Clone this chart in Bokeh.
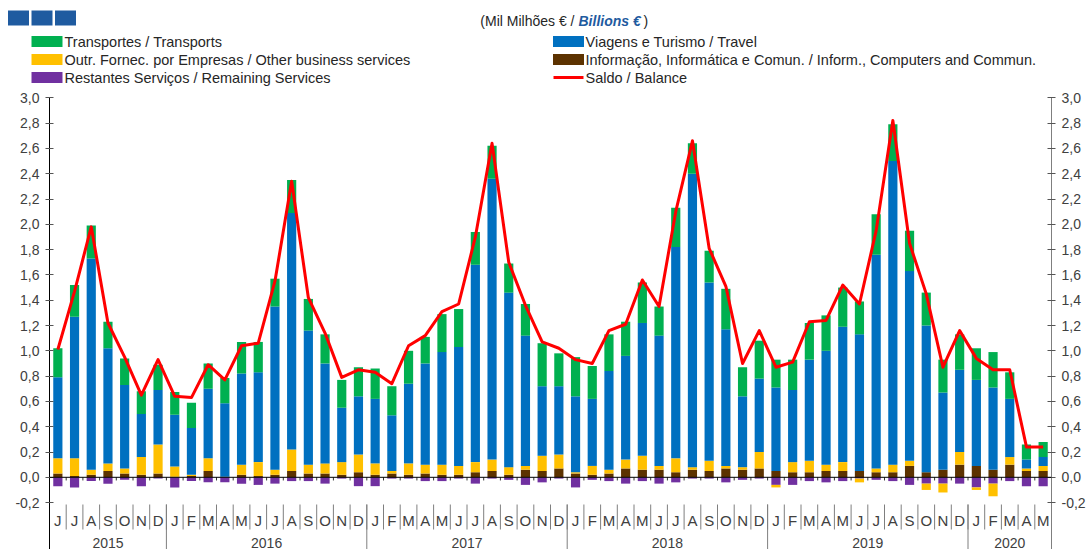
import numpy as np
from bokeh.plotting import figure
from bokeh.models import (ColumnDataSource, Range1d, FixedTicker, LinearAxis, Span,
                          CustomJSTickFormatter)
from bokeh.core.properties import value
from bokeh.embed import file_html
from bokeh.resources import INLINE

# ---------------- data ----------------
months = ["J", "J", "A", "S", "O", "N", "D",
          "J", "F", "M", "A", "M", "J", "J", "A", "S", "O", "N", "D",
          "J", "F", "M", "A", "M", "J", "J", "A", "S", "O", "N", "D",
          "J", "F", "M", "A", "M", "J", "J", "A", "S", "O", "N", "D",
          "J", "F", "M", "A", "M", "J", "J", "A", "S", "O", "N", "D",
          "J", "F", "M", "A", "M"]
years = ["2015", "2016", "2017", "2018", "2019", "2020"]
months_per_year = [7, 12, 12, 12, 12, 5]

transport = [0.23, 0.25, 0.26, 0.21, 0.21, 0.18, 0.20, 0.18, 0.20, 0.20,
             0.20, 0.25, 0.24, 0.22, 0.26, 0.25, 0.23, 0.22, 0.23, 0.24,
             0.23, 0.26, 0.21, 0.30, 0.30, 0.26, 0.26, 0.23, 0.25, 0.34,
             0.26, 0.31, 0.26, 0.29, 0.27, 0.32, 0.23, 0.31, 0.24, 0.25,
             0.32, 0.23, 0.30, 0.22, 0.24, 0.29, 0.28, 0.31, 0.26, 0.32,
             0.29, 0.32, 0.26, 0.26, 0.28, 0.25, 0.28, 0.21, 0.12, 0.12]
travel = [0.64, 1.12, 1.67, 0.91, 0.66, 0.34, 0.43, 0.41, 0.37, 0.55,
          0.58, 0.72, 0.71, 1.29, 1.87, 1.06, 0.79, 0.43, 0.46, 0.51,
          0.44, 0.63, 0.80, 0.89, 0.94, 1.56, 2.22, 1.38, 1.03, 0.55,
          0.54, 0.60, 0.53, 0.78, 0.82, 1.05, 1.03, 1.67, 2.32, 1.41,
          1.08, 0.56, 0.58, 0.66, 0.57, 0.80, 0.90, 1.07, 1.08, 1.69,
          2.40, 1.50, 1.16, 0.61, 0.65, 0.68, 0.65, 0.46, 0.07, 0.07]
other_business = [0.12, 0.14, 0.04, 0.06, 0.04, 0.14, 0.23, 0.08, 0.01, 0.10,
                  0.00, 0.08, 0.11, 0.04, 0.17, 0.07, 0.08, 0.10, 0.14, 0.09,
                  0.02, 0.09, 0.07, 0.08, 0.07, 0.08, 0.09, 0.06, 0.03, 0.12,
                  0.11, 0.01, 0.07, 0.03, 0.07, 0.11, 0.03, 0.11, 0.02, 0.08,
                  0.02, 0.02, 0.13, -0.02, 0.08, 0.09, 0.05, 0.07, -0.03, 0.03,
                  0.06, 0.04, -0.05, -0.07, 0.10, -0.02, -0.10, 0.06, 0.02, 0.04]
info_comp = [0.03, 0.01, 0.02, 0.05, 0.03, 0.02, 0.03, 0.005, 0.01, 0.05,
             0.005, 0.02, 0.01, 0.02, 0.05, 0.03, 0.03, 0.02, 0.04, 0.02,
             0.03, 0.02, 0.03, 0.02, 0.02, 0.04, 0.05, 0.02, 0.06, 0.05,
             0.07, 0.03, 0.02, 0.03, 0.07, 0.06, 0.06, 0.04, 0.06, 0.05,
             0.07, 0.06, 0.07, 0.05, 0.04, 0.04, 0.05, 0.05, 0.05, 0.04,
             0.04, 0.09, 0.04, 0.06, 0.10, 0.09, 0.06, 0.10, 0.05, 0.05]
remaining = [-0.07, -0.08, -0.03, -0.05, -0.02, -0.07, -0.01, -0.08, -0.03, -0.04,
             -0.04, -0.05, -0.06, -0.05, -0.03, -0.03, -0.05, -0.01, -0.07, -0.07,
             -0.01, -0.01, -0.03, -0.03, -0.01, -0.05, -0.01, -0.02, -0.06, -0.04,
             -0.01, -0.08, -0.02, -0.03, -0.05, -0.03, -0.05, -0.04, -0.01, -0.01,
             -0.04, -0.02, -0.01, -0.06, -0.06, -0.03, -0.04, -0.03, -0.01, -0.02,
             -0.03, -0.06, -0.05, -0.05, -0.05, -0.08, -0.05, -0.03, -0.07, -0.07]
balance = [1.01, 1.47, 1.98, 1.22, 0.95, 0.65, 0.93, 0.64, 0.63, 0.89,
           0.77, 1.04, 1.06, 1.55, 2.34, 1.42, 1.14, 0.79, 0.85, 0.83,
           0.74, 1.04, 1.12, 1.31, 1.37, 1.90, 2.64, 1.70, 1.36, 1.07,
           1.02, 0.93, 0.90, 1.16, 1.21, 1.56, 1.35, 2.10, 2.66, 1.81,
           1.51, 0.90, 1.16, 0.87, 0.91, 1.23, 1.24, 1.52, 1.37, 1.95,
           2.82, 1.85, 1.45, 0.87, 1.16, 0.94, 0.85, 0.85, 0.24, 0.24]

y_ticks = [-0.2, 0.0, 0.2, 0.4, 0.6, 0.8, 1.0, 1.2, 1.4, 1.6, 1.8, 2.0,
           2.2, 2.4, 2.6, 2.8, 3.0]

labels = {
    "transport": "Transportes / Transports",
    "travel": "Viagens e Turismo / Travel",
    "other": "Outr. Fornec. por Empresas  / Other business services",
    "info": "Informação, Informática e Comun. / Inform., Computers and Commun.",
    "remaining": "Restantes Serviços / Remaining Services",
    "balance": "Saldo / Balance",
}
colors = {
    "transport": "#00b050",
    "travel": "#0070c0",
    "other": "#ffc000",
    "info": "#5c3200",
    "remaining": "#7030a0",
    "balance": "#ff0000",
}

FONT = value("Liberation Sans")
TXT = "#262626"

# ---------------- layout constants (page pixels) ----------------
W, H = 1092, 549
FRAME_L, FRAME_R = 49, 1051
PX_PER_UNIT = 126.5
Y3_PAGE = 97.3
n = len(months)
PX_PER_BAR = (FRAME_R - FRAME_L) / n


def yd(page_y):
    return 3.0 - (page_y - Y3_PAGE) / PX_PER_UNIT


def xd(page_x):
    return -0.5 + (page_x - FRAME_L) / PX_PER_BAR


y_max = yd(0)
y_min = yd(H)

p = figure(width=W, height=H, x_range=Range1d(-0.5, n - 0.5),
           y_range=Range1d(y_min, y_max), output_backend="svg", toolbar_location=None,
           x_axis_location=None, y_axis_location="left",
           min_border_left=FRAME_L, min_border_right=W - FRAME_R,
           min_border_top=0, min_border_bottom=0)
p.grid.visible = False
p.outline_line_color = None
p.background_fill_color = "white"

x = np.arange(n)

# ---------------- stacked bars ----------------
series = {
    "info": np.array(info_comp),
    "other": np.array(other_business),
    "travel": np.array(travel),
    "transport": np.array(transport),
    "remaining": np.array(remaining),
}
pos_order = ["info", "other", "travel", "transport", "remaining"]
neg_order = ["remaining", "other", "info", "travel", "transport"]

pos_base = np.zeros(n)
for key in pos_order:
    v = np.clip(series[key], 0, None)
    if not np.any(v > 0):
        continue
    src = ColumnDataSource(dict(x=x, bottom=pos_base.copy(), top=pos_base + v))
    p.vbar(x="x", bottom="bottom", top="top", width=0.55, source=src,
           fill_color=colors[key], line_color=None)
    pos_base = pos_base + v

neg_base = np.zeros(n)
for key in neg_order:
    v = np.clip(series[key], None, 0)
    if not np.any(v < 0):
        continue
    src = ColumnDataSource(dict(x=x, top=neg_base.copy(), bottom=neg_base + v))
    p.vbar(x="x", bottom="bottom", top="top", width=0.55, source=src,
           fill_color=colors[key], line_color=None)
    neg_base = neg_base + v

# zero line with small ticks at month boundaries
p.add_layout(Span(location=0, dimension="width", line_color="#000000", line_width=1))
bx = x[:-1] + 0.5
p.segment(x0=bx, y0=np.zeros(len(bx)), x1=bx, y1=np.full(len(bx), -0.025),
          line_color="#333333", line_width=1)

# balance line
p.line(x=x, y=balance, line_color=colors["balance"], line_width=3, line_join="round")

# ---------------- value axes ----------------
formatter = CustomJSTickFormatter(code="return tick.toFixed(1).replace('.', ',');")


def style_axis(ax, line_color):
    ax.ticker = FixedTicker(ticks=y_ticks)
    ax.formatter = formatter
    ax.bounds = (y_min, 3.0)
    ax.axis_line_color = line_color
    ax.axis_line_width = 1
    ax.major_tick_in = 4
    ax.major_tick_out = 4
    ax.major_tick_line_color = "#555555"
    ax.minor_tick_line_color = None
    ax.major_label_text_font = "Liberation Sans"
    ax.major_label_text_font_size = "14px"
    ax.major_label_text_color = "#404040"
    ax.major_label_standoff = 6


style_axis(p.yaxis[0], "#000000")
right_axis = LinearAxis()
p.add_layout(right_axis, "right")
style_axis(right_axis, "#7f7f7f")

# ---------------- category axis (months / years) ----------------
y_sep0 = yd(504)
y_sep1 = yd(529)
p.segment(x0=bx, y0=np.full(len(bx), y_sep0), x1=bx, y1=np.full(len(bx), y_sep1),
          line_color="#7f7f7f", line_width=1)
year_starts = np.cumsum([0] + months_per_year[:-1])
ybx = year_starts[1:] - 0.5
p.segment(x0=ybx, y0=np.full(len(ybx), y_sep0), x1=ybx, y1=np.full(len(ybx), y_min),
          line_color="#7f7f7f", line_width=1)

p.text(x=x, y=np.full(n, yd(520)), text=months, text_align="center",
       text_baseline="middle", text_font=FONT, text_font_size="15px", text_color="#404040")
year_centers = year_starts + (np.array(months_per_year) - 1) / 2.0
p.text(x=year_centers, y=np.full(len(years), yd(542)), text=years, text_align="center",
       text_baseline="middle", text_font=FONT, text_font_size="14px", text_color="#404040")

# ---------------- header: logo, units title, legend ----------------
LV = "annotation"  # drawn without frame clipping
p.rect(x=[xd(18), xd(41.5), xd(65)], y=[yd(17.5)] * 3, width=21, height=15,
       width_units="screen", height_units="screen",
       fill_color="#1f5ba0", line_color=None, level=LV)

p.text(x=[xd(574)], y=[yd(20)], text=["(Mil Milhões € /"], text_align="right",
       text_baseline="middle", text_font=FONT, text_font_size="14px", text_color=TXT, level=LV)
p.text(x=[xd(578)], y=[yd(20)], text=["Billions €"], text_align="left",
       text_baseline="middle", text_font=FONT, text_font_size="14px",
       text_font_style="bold italic", text_color="#1f5ba0", level=LV)
p.text(x=[xd(643)], y=[yd(20)], text=[")"], text_align="left",
       text_baseline="middle", text_font=FONT, text_font_size="14px", text_color=TXT, level=LV)

left_keys = ["transport", "other", "remaining"]
right_keys = ["travel", "info"]
rows = [yd(41), yd(59), yd(77)]
p.rect(x=[xd(46.5)] * 3, y=rows, width=31, height=11,
       width_units="screen", height_units="screen",
       fill_color=[colors[k] for k in left_keys], line_color=None, level=LV)
p.text(x=[xd(64)] * 3, y=rows, text=[labels[k] for k in left_keys], text_align="left",
       text_baseline="middle", text_font=FONT, text_font_size="14.5px", text_color=TXT, level=LV)
p.rect(x=[xd(568)] * 2, y=rows[:2], width=31, height=11,
       width_units="screen", height_units="screen",
       fill_color=[colors[k] for k in right_keys], line_color=None, level=LV)
p.segment(x0=[xd(553)], y0=[rows[2]], x1=[xd(583)], y1=[rows[2]],
          line_color=colors["balance"], line_width=3, level=LV)
p.text(x=[xd(585)] * 3, y=rows, text=[labels[k] for k in right_keys] + [labels["balance"]],
       text_align="left", text_baseline="middle", text_font=FONT,
       text_font_size="14.5px", text_color=TXT, level=LV)

open("out.html", "w").write(file_html(p, INLINE))
